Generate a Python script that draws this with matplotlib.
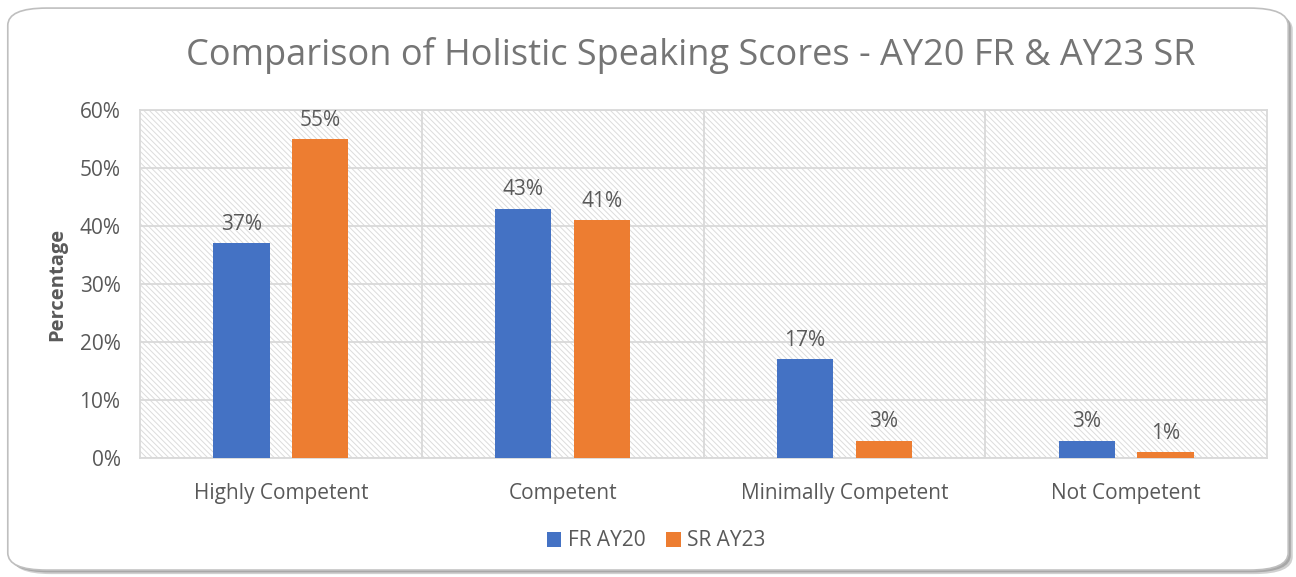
import matplotlib.pyplot as plt
import numpy as np
from matplotlib.patches import FancyBboxPatch
from matplotlib.ticker import PercentFormatter

categories = ['Highly Competent', 'Competent', 'Minimally Competent', 'Not Competent']
fr_ay20 = [37, 43, 17, 3]
sr_ay23 = [55, 41, 3, 1]
series_names = ['FR AY20', 'SR AY23']


def main():
    plt.rcParams['font.family'] = ['Open Sans', 'DejaVu Sans']
    plt.rcParams['hatch.color'] = '#dcdcdc'
    plt.rcParams['hatch.linewidth'] = 0.7
    text_color = '#595959'

    fig = plt.figure(figsize=(12.96, 5.77), dpi=100)

    # rounded chart frame with a soft shadow
    for off, col in [(0.007, '#d0d0d0'), (0.004, '#a8a8a8')]:
        shadow = FancyBboxPatch((0.006 + off * 0.5, 0.012 - off), 0.988, 0.974,
                                boxstyle='round,pad=0,rounding_size=0.03',
                                transform=fig.transFigure, facecolor=col,
                                edgecolor='none', zorder=0)
        fig.patches.append(shadow)
    frame = FancyBboxPatch((0.006, 0.012), 0.988, 0.974,
                           boxstyle='round,pad=0,rounding_size=0.03',
                           transform=fig.transFigure, facecolor='white',
                           edgecolor='#bfbfbf', linewidth=1.2, zorder=1)
    fig.patches.append(frame)

    ax = fig.add_axes([140 / 1296, 1 - 458 / 577, (1267 - 140) / 1296, (458 - 110) / 577])
    ax.set_zorder(2)
    ax.patch.set_facecolor('white')
    ax.patch.set_hatch('\\\\\\\\\\\\')
    ax.patch.set_edgecolor('#dcdcdc')
    ax.patch.set_linewidth(0)

    x = np.arange(len(categories))
    w = 0.2
    b1 = ax.bar(x - 0.14, fr_ay20, w, color='#4472C4', label=series_names[0], zorder=3)
    b2 = ax.bar(x + 0.14, sr_ay23, w, color='#ED7D31', label=series_names[1], zorder=3)
    for bars in (b1, b2):
        ax.bar_label(bars, labels=[f'{v:.0f}%' for v in bars.datavalues], padding=6,
                     fontsize=15, color=text_color)

    ax.set_xlim(-0.5, len(categories) - 0.5)
    ax.set_ylim(0, 60)
    ax.yaxis.set_major_formatter(PercentFormatter(decimals=0))
    ax.set_yticks(np.arange(0, 61, 10))
    ax.set_xticks(x)
    ax.set_xticklabels(categories)
    ax.set_xticks(np.arange(0.5, len(categories) - 1, 1), minor=True)
    ax.grid(axis='y', which='major', color='#d9d9d9', linewidth=1.3, zorder=1)
    ax.grid(axis='x', which='minor', color='#d9d9d9', linewidth=1.3, zorder=1)
    ax.tick_params(axis='both', which='both', length=0, colors=text_color, labelsize=15)
    ax.tick_params(axis='x', pad=18)
    ax.tick_params(axis='y', pad=14)
    ax.set_axisbelow(True)
    for s in ax.spines.values():
        s.set_color('#d9d9d9')
        s.set_linewidth(1.3)

    ax.set_ylabel('Percentage', fontsize=14.5, fontweight='bold', color=text_color, labelpad=9)

    fig.text(691 / 1296, 1 - 56 / 577, 'Comparison of Holistic Speaking Scores - AY20 FR & AY23 SR',
             ha='center', va='center', fontsize=26, color='#757575', zorder=5)

    fig.legend(loc='center', bbox_to_anchor=(656 / 1296, 1 - 541 / 577), ncol=2, frameon=False,
               fontsize=15, labelcolor=text_color, handlelength=0.7, handleheight=0.7,
               handletextpad=0.3, columnspacing=1.0)

    fig.savefig('out.png', dpi=100)


if __name__ == '__main__':
    main()
